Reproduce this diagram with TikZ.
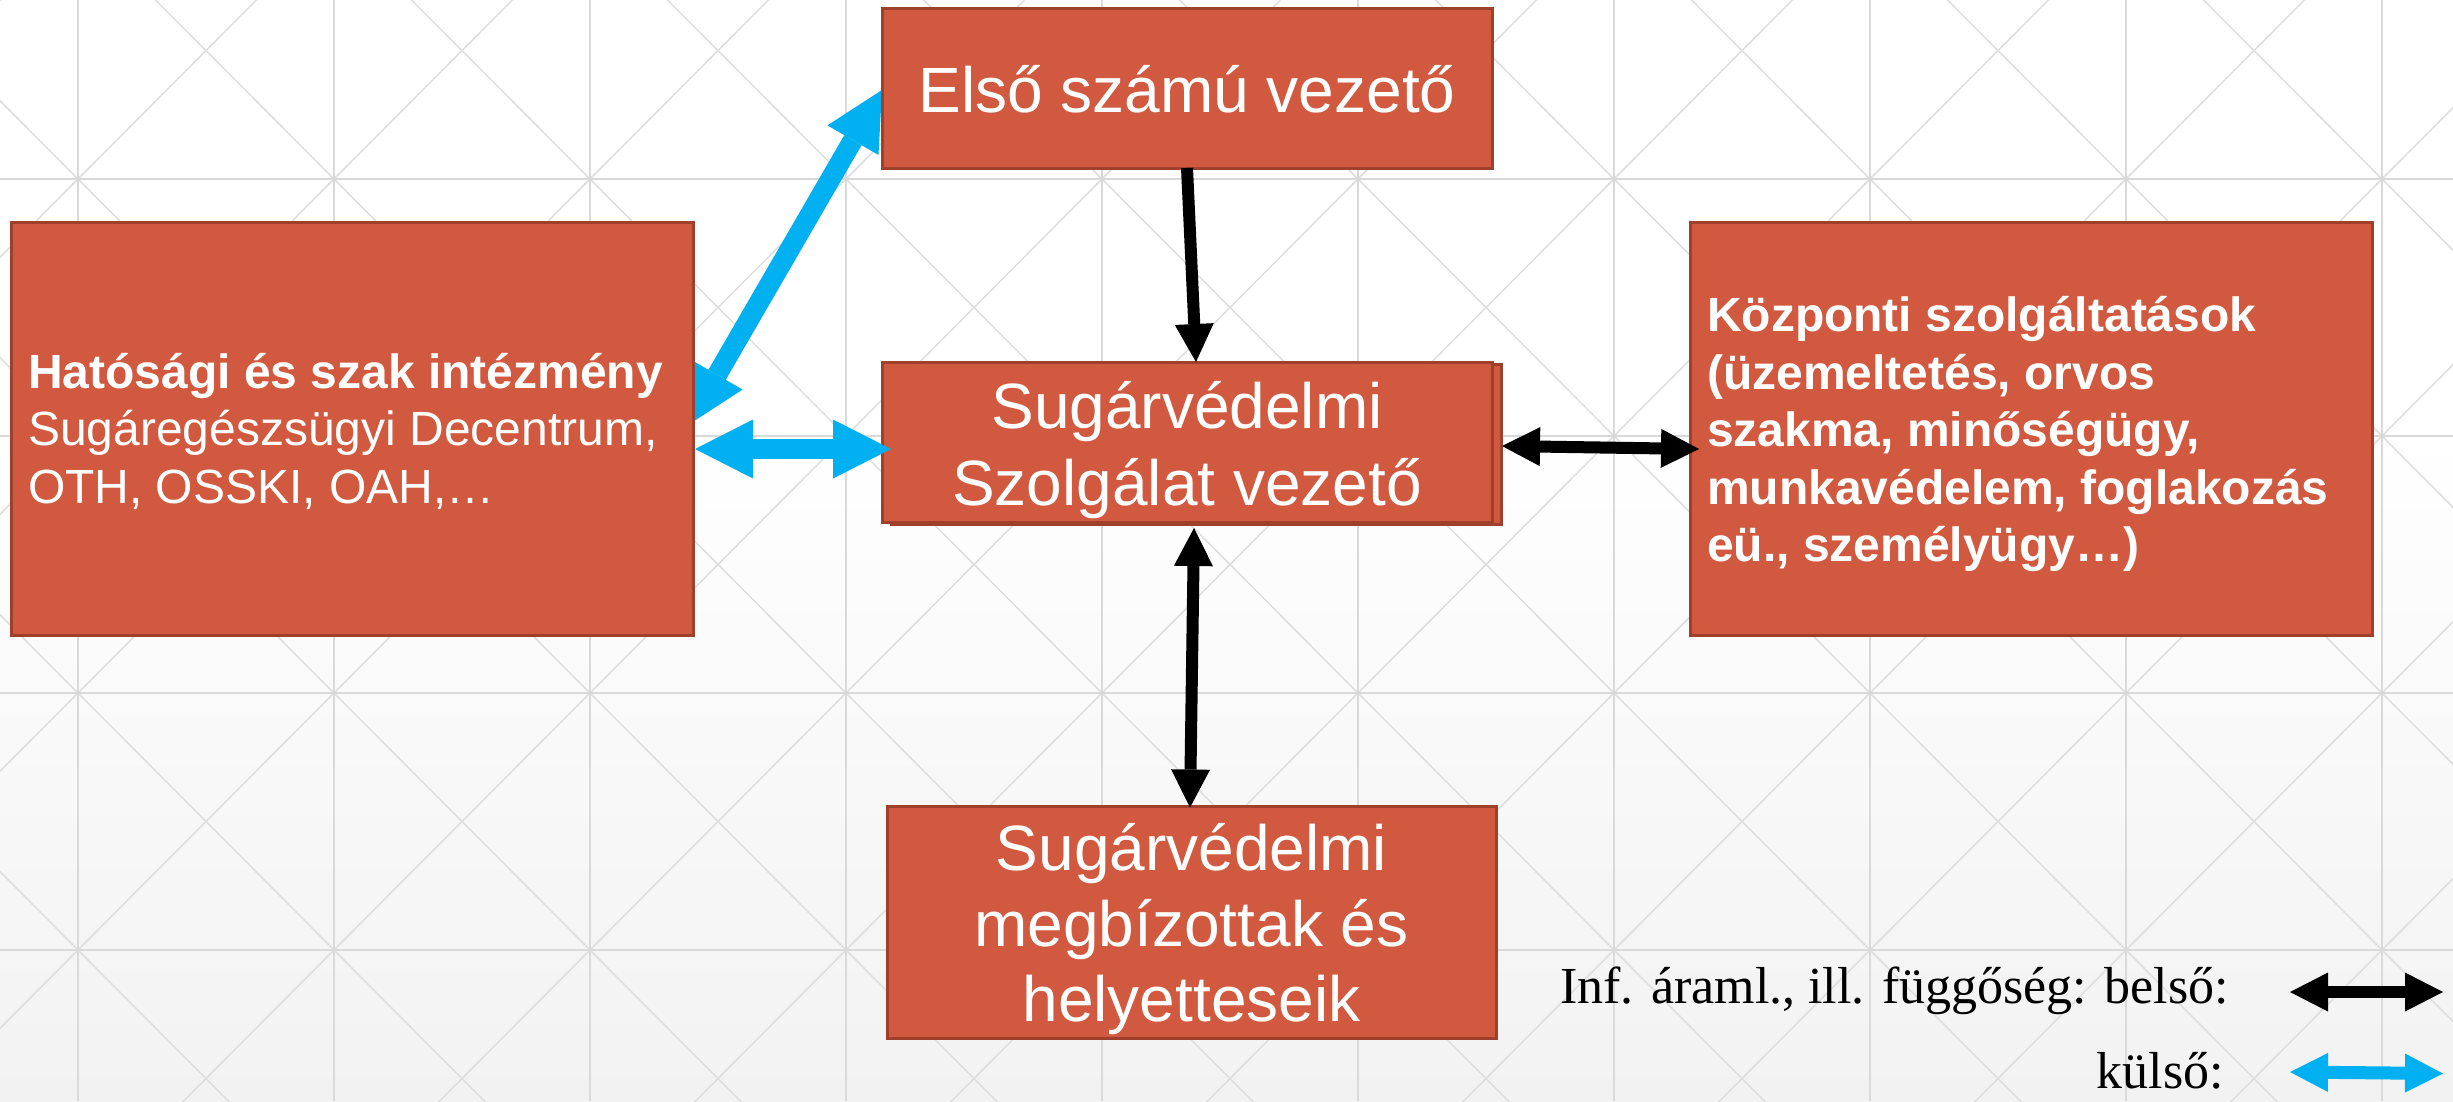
\documentclass[tikz,border=0pt]{standalone}
\usepackage{fontspec}
\setmainfont{Liberation Sans}
\newfontfamily\legendfont{Liberation Serif}
\usetikzlibrary{arrows.meta,calc}
\pgfdeclarelayer{back}
\pgfdeclarelayer{mid}
\pgfsetlayers{back,mid,main}

\definecolor{boxfill}{RGB}{208,89,63}
\definecolor{boxline}{RGB}{158,64,44}
\definecolor{extblue}{RGB}{0,176,240}
\definecolor{gridc}{RGB}{217,217,217}
\definecolor{diagc}{RGB}{222,222,222}
\definecolor{bottomgray}{RGB}{242,242,242}

\tikzset{
  redbox/.style={draw=boxline, fill=boxfill, line width=3pt, rectangle, inner sep=0pt, outer sep=0pt},
  boxtext/.style={text=white, inner sep=0pt, outer sep=0pt},
  bigtext/.style={boxtext, font=\fontsize{64}{77}\selectfont},
  bigmulti/.style={boxtext, font=\fontsize{64}{75.5}\selectfont, align=center},
  bigtwo/.style={boxtext, font=\fontsize{64}{77}\selectfont, align=center},
  smalltext/.style={boxtext, font=\fontsize{48}{57.5}\selectfont, align=left},
  smallbold/.style={boxtext, font=\fontsize{48}{57.5}\selectfont\bfseries, align=left},
  inarrow/.style={black, line width=12pt, >={Triangle[width=39pt,length=38pt,line width=0pt]}},
  exarrow/.style={extblue, line width=20pt, >={Triangle[width=59pt,length=58pt,line width=0pt]}},
  exsmall/.style={extblue, line width=13pt, >={Triangle[width=39pt,length=38pt,line width=0pt]}},
  legendtext/.style={font=\legendfont\fontsize{52}{60}\selectfont, inner sep=0pt, text=black},
}
\newcommand{\topstrut}[1]{\rule{0pt}{#1}}

\begin{document}
\begin{tikzpicture}[x=1pt,y=-1pt]
\useasboundingbox (0,0) rectangle (2453,1101);

% background
\begin{pgfonlayer}{back}
  \fill[white] (0,0) rectangle (2453,1101);
  \shade[top color=white,bottom color=bottomgray] (0,430) rectangle (2453,1101);
  \begin{scope}
    \clip (0,0) rectangle (2453,1101);
    \foreach \i in {0,...,10} {
      \foreach \j in {0,...,4} {
        \draw[diagc, line width=1.5pt] ({-178+256*\i},{-78+257*\j}) -- ++(256,257);
        \draw[diagc, line width=1.5pt] ({78+256*\i},{-78+257*\j}) -- ++(-256,257);
      }
    }
    \foreach \x in {78,334,...,2382} \draw[gridc, line width=2.5pt] (\x,0) -- (\x,1101);
    \foreach \y in {179,436,693,950} \draw[gridc, line width=2.5pt] (0,\y) -- (2453,\y);
  \end{scope}
\end{pgfonlayer}

% boxes
\node[redbox, minimum width=610pt, minimum height=160pt] (elso) at (1187,88) {};
\node[redbox, minimum width=610pt, minimum height=160pt] (szvback) at (1196,444.5) {};
\node[redbox, minimum width=610pt, minimum height=160pt] (szv) at (1187,442) {};
\node[redbox, minimum width=609pt, minimum height=232pt] (megb) at (1191.5,922) {};
\node[redbox, minimum width=682pt, minimum height=413pt] (hat) at (352,428.5) {};
\node[redbox, minimum width=682pt, minimum height=413pt] (kozp) at (2031,428.5) {};

% box texts
\node[bigtext, anchor=base] (elsotext) at ($(elso.center)+(0,24)$) {Első számú vezető};
\node[bigtwo, anchor=north] (szvtext) at ($(szv.center)+(0,-83.6)$) {\topstrut{70pt}Sugárvédelmi\\Szolgálat vezető};
\node[bigmulti, anchor=north] (megbtext) at ($(megb.center)+(0,-121.2)$) {\topstrut{70pt}Sugárvédelmi\\megbízottak és\\helyetteseik};
\node[smalltext, anchor=north west] (hattext) at ($(hat.north west)+(17,111)$) {\topstrut{55pt}\textbf{Hatósági és szak intézmény}\\Sugáregészsügyi Decentrum,\\OTH, OSSKI, OAH,…};
\node[smallbold, anchor=north west] (kozptext) at ($(kozp.north west)+(17,54.7)$) {\topstrut{55pt}Központi szolgáltatások\\(üzemeltetés, orvos\\szakma, minőségügy,\\munkavédelem, foglakozás\\eü., személyügy…)};

% external link behind the boxes
\begin{pgfonlayer}{mid}
  \draw[exarrow,<->] ($(hat.east)+(-5,-3.5)$) -- ($(elso.west)+(0,2)$);
\end{pgfonlayer}

% connectors
\draw[exarrow,<->] ($(hat.east)+(2,20.5)$) -- ($(szv.west)+(9,7)$);
\draw[inarrow,->] (elso.south) -- ($(szv.north)+(9,0)$);
\draw[inarrow,<->] ($(szvback.east)+(1,1.5)$) -- ($(kozp.west)+(9,20.5)$);
\draw[inarrow,<->] ($(szvback.south)+(-2,3.5)$) -- ($(megb.north)+(-1.5,1.5)$);

% legend
\node[legendtext, anchor=base east] (leg1) at (2229,1003) {Inf. áraml., ill. függőség: belső:};
\node[legendtext, anchor=base east] (leg2) at (2224,1088) {külső:};
\coordinate (lb1) at (2290,992);
\coordinate (lb2) at (2443,992);
\coordinate (lc1) at (2290,1072);
\coordinate (lc2) at (2443,1073.5);
\draw[inarrow,<->] (lb1) -- (lb2);
\draw[exsmall,<->] (lc1) -- (lc2);
\end{tikzpicture}
\end{document}
